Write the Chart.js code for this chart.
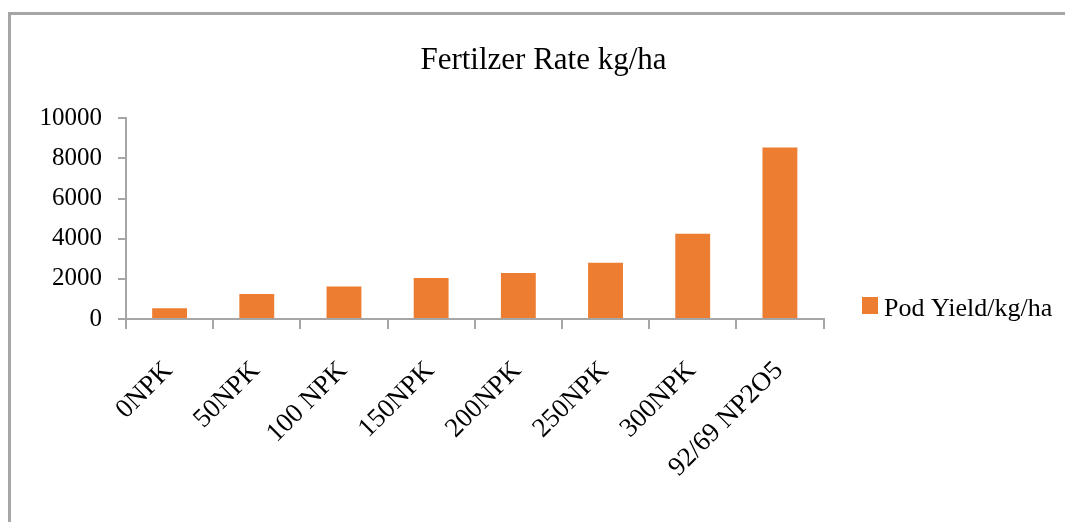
<!DOCTYPE html>
<html>
<head>
<meta charset="utf-8">
<script src="https://cdn.jsdelivr.net/npm/chart.js@4/dist/chart.umd.min.js"></script>
<style>
  html, body { margin: 0; padding: 0; background: #fff; overflow: hidden; }
  #wrap { position: relative; width: 1065px; height: 522px; }
  #frame { position: absolute; left: 8px; top: 12px; width: 1100px; height: 600px;
           border-left: 3px solid #a6a6a6; border-top: 3px solid #a6a6a6; }
  #c { position: absolute; left: 0; top: 0; }
</style>
</head>
<body>
<div id="wrap">
  <div id="frame"></div>
  <canvas id="c" width="1065" height="522"></canvas>
</div>
<script>
const categories = ['0NPK', '50NPK', '100 NPK', '150NPK', '200NPK', '250NPK', '300NPK', '92/69 NP2O5'];
const podYield = [530, 1250, 1620, 2040, 2290, 2800, 4250, 8540];
const seriesLabel = 'Pod Yield/kg/ha';
const chartTitle = 'Fertilzer Rate kg/ha';
const yTickValues = [0, 2000, 4000, 6000, 8000, 10000];

const FONT = "'Liberation Serif', 'Times New Roman', serif";
const AXIS = '#a6a6a6';

const sideLegend = {
  id: 'sideLegend',
  afterDraw(chart) {
    const ctx = chart.ctx;
    const ds = chart.data.datasets[0];
    ctx.save();
    ctx.fillStyle = ds.backgroundColor;
    ctx.fillRect(862, 297, 16, 17);
    ctx.fillStyle = '#000';
    ctx.font = '26px ' + FONT;
    ctx.textBaseline = 'alphabetic';
    ctx.textAlign = 'left';
    ctx.fillText(ds.label, 884, 316);
    ctx.restore();
  }
};

new Chart(document.getElementById('c'), {
  type: 'bar',
  data: {
    labels: categories,
    datasets: [{
      label: seriesLabel,
      data: podYield,
      backgroundColor: '#ED7D31',
      borderWidth: 0,
      barPercentage: 0.4,
      categoryPercentage: 1.0
    }]
  },
  options: {
    responsive: false,
    devicePixelRatio: 1,
    animation: false,
    layout: { padding: { left: 22, right: 0, top: 0, bottom: 0 } },
    plugins: {
      legend: { display: false },
      tooltip: { enabled: false },
      title: {
        display: true,
        text: chartTitle,
        color: '#000',
        font: { family: FONT, size: 31, weight: 'normal', lineHeight: 1.2 },
        padding: { top: 42, bottom: 39 }
      }
    },
    scales: {
      x: {
        grid: { display: true, drawOnChartArea: false, drawTicks: true, tickLength: 10, color: AXIS, lineWidth: 2 },
        border: { display: true, color: AXIS, width: 2 },
        ticks: {
          color: '#000',
          font: { family: FONT, size: 27, lineHeight: 1.2 },
          minRotation: 45, maxRotation: 45,
          autoSkip: false,
          padding: 26,
          labelOffset: -1
        },
        afterFit: s => { s.height = 203; }
      },
      y: {
        min: 0, max: 10000,
        grid: { display: true, drawOnChartArea: false, drawTicks: true, tickLength: 8, color: AXIS, lineWidth: 2 },
        border: { display: true, color: AXIS, width: 2 },
        ticks: {
          color: '#000',
          font: { family: FONT, size: 25, lineHeight: 1.2 },
          padding: 16,
          callback: v => String(v)
        },
        afterBuildTicks: s => { s.ticks = yTickValues.map(v => ({ value: v })); },
        afterFit: s => { s.width = 104; }
      },
      spacer: {
        type: 'linear',
        position: 'right',
        display: true,
        grid: { display: false },
        border: { display: false },
        ticks: { display: false },
        afterFit: s => { s.width = 241.5; }
      }
    }
  },
  plugins: [sideLegend]
});
</script>
</body>
</html>
